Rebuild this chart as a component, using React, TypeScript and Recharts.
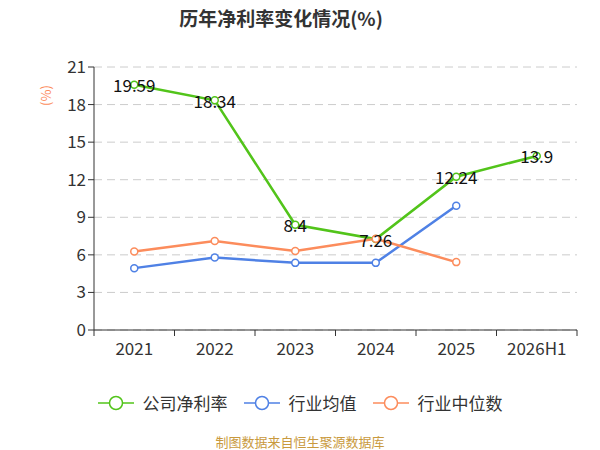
import React from 'react';
import { LineChart, Line, XAxis, YAxis, CartesianGrid, LabelList } from 'recharts';

const years = ['2021', '2022', '2023', '2024', '2025', '2026H1'];
const companyRate = [19.59, 18.34, 8.4, 7.26, 12.24, 13.9];
const industryAvg = [4.94, 5.78, 5.36, 5.36, 9.92, null];
const industryMedian = [6.26, 7.1, 6.3, 7.28, 5.42, null];
const yTicks = [0, 3, 6, 9, 12, 15, 18, 21];

const GREEN = '#52c41a';
const BLUE = '#4f81e5';
const ORANGE = '#fc8c5c';
const FONT = '"Noto Sans CJK SC", "Noto Sans", sans-serif';

const data = years.map((year, i) => ({
  year,
  company: companyRate[i],
  avg: industryAvg[i],
  median: industryMedian[i],
}));

const W = 600;
const H = 450;
// plot area: x 94..577, y 67..330
const PLOT = { left: 94, right: 577, top: 67, bottom: 330 };
const XH = 30;
const YW = 60;
const M = { top: PLOT.top, right: W - PLOT.right, bottom: H - PLOT.bottom - XH, left: PLOT.left - YW };
const BAND = (PLOT.right - PLOT.left) / years.length;

const XTick = (props: any) => {
  const { x, payload, index } = props;
  const axisY = PLOT.bottom;
  return (
    <g>
      <line x1={x - BAND / 2} y1={axisY} x2={x - BAND / 2} y2={axisY + 6} stroke="#333" />
      {index === years.length - 1 && (
        <line x1={x + BAND / 2} y1={axisY} x2={x + BAND / 2} y2={axisY + 6} stroke="#333" />
      )}
      <text x={x} y={axisY + 25} textAnchor="middle" fontSize={17} fill="#333" fontFamily={FONT}>
        {payload.value}
      </text>
    </g>
  );
};

const ValueLabel = (props: any) => {
  const { x, y, value } = props;
  return (
    <text x={x} y={y} textAnchor="middle" dominantBaseline="central" fontSize={17} fill="#111" fontFamily={FONT}>
      {value}
    </text>
  );
};

const legendItems = [
  { name: '公司净利率', color: GREEN },
  { name: '行业均值', color: BLUE },
  { name: '行业中位数', color: ORANGE },
];

const dot = (color: string) => ({ r: 3.5, fill: '#fff', stroke: color, strokeWidth: 1.5 });

export default function App() {
  return (
    <div style={{ position: 'absolute', left: 0, top: 0, width: W, height: H, background: '#fff', fontFamily: FONT }}>
      <div style={{ position: 'absolute', left: 0, top: 4, width: 562, textAlign: 'center', fontSize: 19, fontWeight: 'bold', color: '#333' }}>
        历年净利率变化情况(%)
      </div>
      <div
        style={{
          position: 'absolute', left: 35, top: 86, fontSize: 13, color: ORANGE,
          transform: 'rotate(-90deg)', transformOrigin: 'center',
        }}
      >
        (%)
      </div>
      <LineChart width={W} height={H} data={data} margin={M}>
        <CartesianGrid vertical={false} stroke="#ccc" strokeDasharray="8 5" />
        <XAxis
          dataKey="year"
          stroke="#333"
          height={XH}
          tickLine={false}
          tick={<XTick />}
          interval={0}
          padding={{ left: BAND / 2, right: BAND / 2 }}
        />
        <YAxis
          domain={[0, 21]}
          ticks={yTicks}
          width={YW}
          stroke="#333"
          tickSize={6}
          tick={{ fontSize: 17, fill: '#333', fontFamily: FONT }}
          interval={0}
        />
        <Line
          dataKey="company"
          name="公司净利率"
          stroke={GREEN}
          strokeWidth={2.5}
          dot={dot(GREEN)}
          isAnimationActive={false}
        >
          <LabelList dataKey="company" content={<ValueLabel />} />
        </Line>
        <Line dataKey="avg" name="行业均值" stroke={BLUE} strokeWidth={2.5} dot={dot(BLUE)} isAnimationActive={false} />
        <Line dataKey="median" name="行业中位数" stroke={ORANGE} strokeWidth={2.5} dot={dot(ORANGE)} isAnimationActive={false} />
      </LineChart>
      <div
        style={{
          position: 'absolute', left: 0, top: 390, width: W, display: 'flex', justifyContent: 'center',
          fontSize: 17, color: '#333', paddingLeft: 16, boxSizing: 'border-box',
        }}
      >
        {legendItems.map((it) => (
          <div key={it.name} style={{ display: 'flex', alignItems: 'center', marginRight: 16 }}>
            <svg width={36} height={16} style={{ marginRight: 9 }}>
              <line x1={0} y1={8} x2={36} y2={8} stroke={it.color} strokeWidth={1.5} />
              <circle cx={18} cy={8} r={6.5} fill="#fff" stroke={it.color} strokeWidth={1.5} />
            </svg>
            <span>{it.name}</span>
          </div>
        ))}
      </div>
      <div style={{ position: 'absolute', left: 0, top: 432, width: W, textAlign: 'center', fontSize: 13, color: '#c99a3e' }}>
        制图数据来自恒生聚源数据库
      </div>
    </div>
  );
}
